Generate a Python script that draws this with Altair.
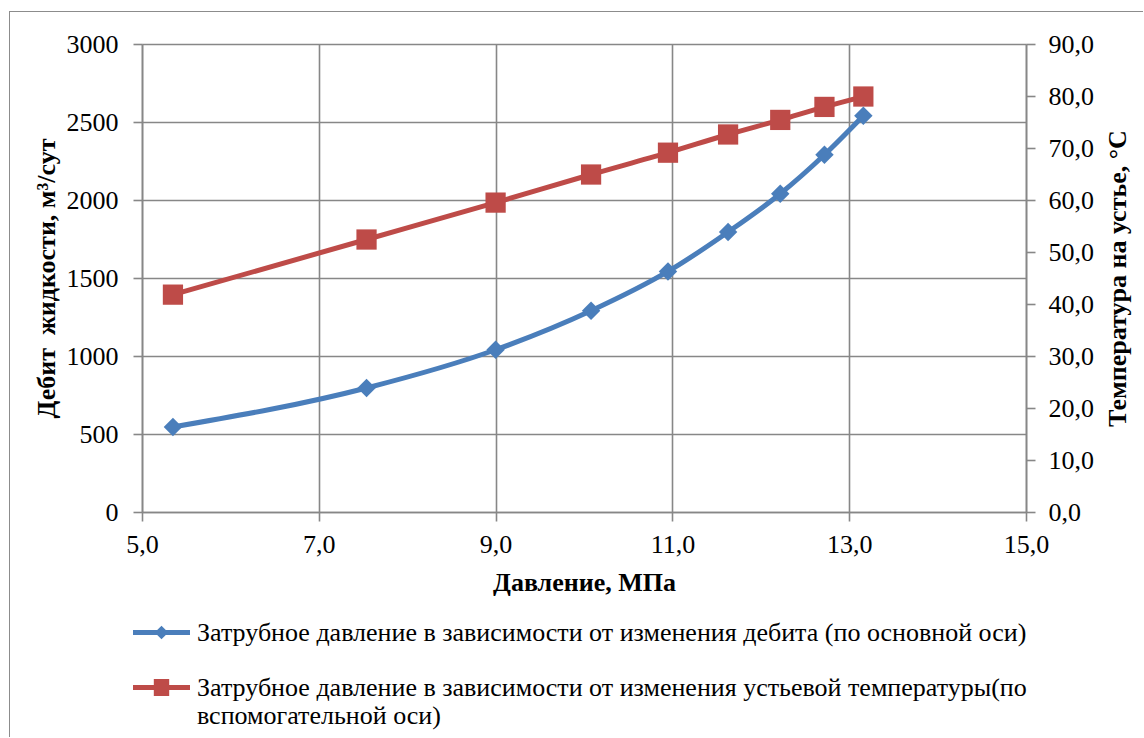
import altair as alt
import pandas as pd

# Annulus pressure (MPa) against liquid flow rate and wellhead temperature
pressure = [5.35, 7.54, 9.0, 10.08, 10.95, 11.63, 12.22, 12.72, 13.16]
flow_rate = [545, 795, 1040, 1290, 1542, 1795, 2040, 2290, 2540]
wellhead_temp = [41.8, 52.4, 59.5, 64.9, 69.1, 72.6, 75.4, 77.9, 79.9]

x_ticks = [5, 7, 9, 11, 13, 15]
left_ticks = [0, 500, 1000, 1500, 2000, 2500, 3000]
right_ticks = [0, 10, 20, 30, 40, 50, 60, 70, 80, 90]

series_flow = "Затрубное давление в зависимости от изменения дебита (по основной оси)"
series_temp = ("Затрубное давление в зависимости от изменения устьевой температуры(по\n"
               "вспомогательной оси)")

df = pd.DataFrame({"p": pressure, "q": flow_rate, "t": wellhead_temp})
df["s_flow"] = series_flow
df["s_temp"] = series_temp

BLUE = "#4A7EBB"
RED = "#BE4B48"
GRID = "#878787"
FRAME = "#8C8C8C"
FONT = "Liberation Serif"
LINE_W = 5

comma_1 = "replace(format(datum.value, '.1f'), '.', ',')"

x_enc = alt.X(
    "p:Q",
    scale=alt.Scale(domain=[5, 15], nice=False, zero=False),
    axis=alt.Axis(
        title="Давление, МПа", values=x_ticks, labelExpr=comma_1, labelFlush=False,
        grid=True, labelPadding=10, titlePadding=12,
    ),
)

y_left = alt.Y(
    "q:Q",
    scale=alt.Scale(domain=[0, 3000], nice=False),
    axis=alt.Axis(
        title="Дебит\u00a0 жидкости, м³/сут", values=left_ticks, orient="left", format="d",
        grid=True, labelPadding=15, titlePadding=7, titleAngle=270,
    ),
)

y_right = alt.Y(
    "t:Q",
    scale=alt.Scale(domain=[0, 90], nice=False),
    axis=alt.Axis(
        title="Температура на устье, °С", values=right_ticks, orient="right",
        grid=False, labelExpr=comma_1, labelPadding=13, titlePadding=11,
        titleAngle=270, titleBaseline="top",
    ),
)

# legend glyphs: a thick line segment with the series marker on it
SYM = 57 * 57
path_flow = "M-1,-0.088H1V0.088H-1Z M0,-0.24L0.24,0L0,0.24L-0.24,0Z"
path_temp = "M-1,-0.088H1V0.088H-1Z M-0.27,-0.3H0.27V0.3H-0.27Z"

legend_common = dict(
    orient="none", title=None, padding=0, symbolOffset=0, labelOffset=7,
    symbolStrokeWidth=0, symbolSize=SYM, symbolOpacity=1,
    labelFont=FONT, labelFontSize=26, labelColor="black", labelLimit=1000,
)

base = alt.Chart(df)

blue_line = base.mark_line(color=BLUE, strokeWidth=LINE_W, interpolate="monotone").encode(
    x=x_enc, y=y_left
)
blue_pts = base.mark_point(shape="diamond", filled=True, size=340, opacity=1).encode(
    x=x_enc,
    y=y_left,
    color=alt.Color(
        "s_flow:N",
        scale=alt.Scale(domain=[series_flow], range=[BLUE]),
        legend=alt.Legend(symbolType=path_flow, legendX=-9, legendY=560, **legend_common),
    ),
)

red_line = base.mark_line(color=RED, strokeWidth=LINE_W, interpolate="monotone").encode(
    x=x_enc, y=y_right
)
red_pts = base.mark_point(shape="square", filled=True, size=410, opacity=1).encode(
    x=x_enc,
    y=y_right,
    fill=alt.Fill(
        "s_temp:N",
        scale=alt.Scale(domain=[series_temp], range=[RED]),
        legend=alt.Legend(
            symbolType=path_temp, legendX=-9, legendY=615,
            labelExpr="split(datum.label, '\\n')", **legend_common
        ),
    ),
)

# thin outer frame of the chart (top and left edges)
frame_top = alt.Chart(df).mark_rule(color=FRAME, strokeWidth=1).encode(
    x=alt.value(-132.5), x2=alt.value(1001), y=alt.value(-32.5)
)
frame_left = alt.Chart(df).mark_rule(color=FRAME, strokeWidth=1).encode(
    x=alt.value(-132.5), y=alt.value(-32.5), y2=alt.value(693)
)

red = alt.layer(red_line, red_pts)
blue = alt.layer(blue_line, blue_pts)

chart = (
    alt.layer(frame_top, frame_left, red, blue)
    .resolve_scale(y="independent")
    .properties(width=884, height=468, padding={"left": 9, "top": 11, "right": 0, "bottom": 0})
    .configure(background="white", style={"guide-label": {"lineHeight": 28}})
    .configure_view(strokeWidth=0)
    .configure_axis(
        labelFont=FONT, labelFontSize=26, labelColor="black",
        titleFont=FONT, titleFontSize=26, titleFontWeight="bold", titleColor="black",
        domainColor=GRID, domainWidth=1.6, gridColor=GRID, gridWidth=1.6,
        tickColor=GRID, tickWidth=1.6, tickSize=9,
    )
)

chart.save("out.html", embed_options={"renderer": "svg", "actions": False})
